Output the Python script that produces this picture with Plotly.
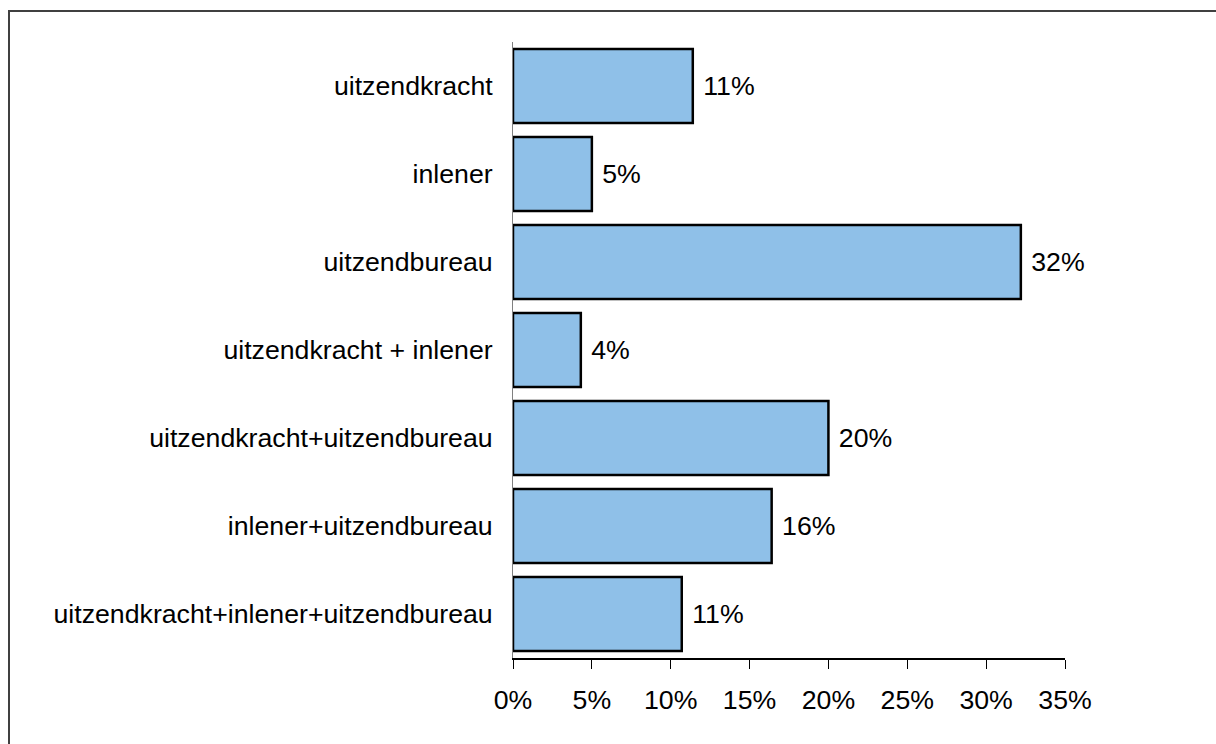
import plotly.graph_objects as go

categories = [
    "uitzendkracht",
    "inlener",
    "uitzendbureau",
    "uitzendkracht + inlener",
    "uitzendkracht+uitzendbureau",
    "inlener+uitzendbureau",
    "uitzendkracht+inlener+uitzendbureau",
]
values = [11.4, 5.0, 32.2, 4.3, 20.0, 16.4, 10.7]
labels = ["11%", "5%", "32%", "4%", "20%", "16%", "11%"]
tick_vals = [0, 5, 10, 15, 20, 25, 30, 35]
tick_text = ["0%", "5%", "10%", "15%", "20%", "25%", "30%", "35%"]

W, H = 1216, 744
L, R, T, B = 513, 151, 42, 86
pw, ph = W - L - R, H - T - B

def px_to_paper_x(px):
    return (px - L) / pw

def px_to_paper_y(py):
    return (H - B - py) / ph

font = "Liberation Sans, Arial, sans-serif"
fsize = 26.7

fig = go.Figure(go.Bar(
    y=categories,
    x=values,
    orientation="h",
    marker=dict(color="#8FC0E8", line=dict(color="#000000", width=2.5)),
    text=labels,
    texttemplate=" %{text}",
    textposition="outside",
    textfont=dict(family=font, size=fsize, color="#000000"),
    cliponaxis=False,
))

frame_color = "#404040"
fig.update_layout(
    width=W, height=H,
    margin=dict(l=L, r=R, t=T, b=B),
    paper_bgcolor="white",
    plot_bgcolor="white",
    bargap=0.16,
    showlegend=False,
    font=dict(family=font, size=fsize, color="#000000"),
    xaxis=dict(
        range=[0, 35],
        tickvals=tick_vals,
        ticktext=tick_text,
        showgrid=False,
        zeroline=False,
        showline=True,
        linecolor="#000000",
        linewidth=1.5,
        ticks="outside",
        ticklen=9,
        tickcolor="#000000",
        tickwidth=1,
        ticklabelstandoff=8,
        tickfont=dict(family=font, size=fsize, color="#000000"),
    ),
    yaxis=dict(
        autorange="reversed",
        showgrid=False,
        zeroline=False,
        showline=True,
        linecolor="#808080",
        linewidth=1,
        ticks="",
        ticklabelstandoff=14,
        tickfont=dict(family=font, size=fsize, color="#000000"),
    ),
    shapes=[
        dict(type="line", xref="paper", yref="paper",
             x0=px_to_paper_x(9), x1=px_to_paper_x(9),
             y0=px_to_paper_y(H + 20), y1=px_to_paper_y(11),
             line=dict(color=frame_color, width=2), layer="below"),
        dict(type="line", xref="paper", yref="paper",
             x0=px_to_paper_x(8), x1=px_to_paper_x(W + 20),
             y0=px_to_paper_y(11), y1=px_to_paper_y(11),
             line=dict(color=frame_color, width=2), layer="below"),
    ],
)

fig.write_html(
    "out.html",
    config={"displayModeBar": False},
    post_script="document.body.style.margin='0';document.body.style.overflow='hidden';",
)
